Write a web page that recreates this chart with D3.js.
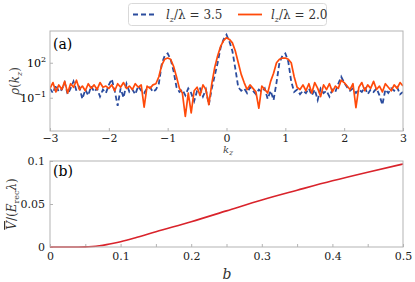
<!DOCTYPE html>
<html>
<head>
<meta charset="utf-8">
<script src="https://cdn.jsdelivr.net/npm/d3@7"></script>
<style>
  body { margin: 0; background: #fff; }
</style>
</head>
<body>
<script>
// panel (a): k_z grid and log10 of rho(k_z)
var kzStep = 0.05
var logRhoA = [ // l_z/lambda = 3.5 (blue dashed)
  -0.2,-0.6,0.1,-0.5,-0.3,0.3,-0.7,-0.2,0.4,-0.4,-0.1,-1.1,-0.3,-0.8,0.0,-0.5,-0.2,-0.9,-0.3,-0.6,
  0.1,0.6,-0.4,-1.7,-0.2,-1.0,0.2,-0.5,-0.3,-0.7,0.0,-0.4,-0.6,-0.2,-0.1,-0.5,-0.3,0.2,1.9,2.6,
  2.8,2.3,1.3,-0.1,-0.5,-0.3,-0.8,-0.2,-0.6,-1.3,-0.4,-0.2,-0.9,-0.3,-1.6,-0.2,0.9,2.0,3.3,4.0,
  4.4,3.8,3.0,1.5,-0.1,-0.4,-0.2,-0.6,-0.1,-0.4,-0.7,-0.3,-0.5,-0.2,-1.1,-0.4,-1.2,0.3,2.0,2.6,
  2.8,2.1,0.4,-0.5,-0.3,-0.7,-0.4,-0.6,-0.2,-0.8,-0.3,-1.2,-0.2,-0.6,-0.4,-0.9,-0.3,-0.5,0.2,0.8,
  0.3,-0.1,-0.4,-0.2,-0.6,-0.3,-0.5,-0.1,-0.7,-0.3,-0.5,-0.2,-0.8,-1.6,-0.3,-0.6,-0.2,-0.4,-0.1,-0.7,-0.5
]
var logRhoB = [ // l_z/lambda = 2.0 (orange)
  -0.2,0.3,-0.5,0.1,-0.3,0.4,-0.6,0.2,-0.1,0.5,-0.3,0.0,-0.4,0.2,-0.2,0.1,-0.3,0.3,-0.1,0.0,
  -0.2,0.1,-0.4,0.2,-0.1,0.3,-0.2,0.0,-0.3,0.2,-0.1,0.1,-1.8,0.0,-0.2,0.1,0.2,0.8,1.8,2.3,
  2.4,2.3,1.7,0.8,-0.2,-0.6,-2.6,-0.6,-2.3,-0.4,-0.1,-0.8,0.1,-0.3,-1.6,0.2,1.6,2.6,3.4,3.9,
  4.15,4.0,3.7,3.0,2.0,1.0,0.3,-0.3,0.1,-0.2,-0.5,-1.9,0.0,-0.3,-0.6,0.4,1.1,2.0,2.3,2.4,
  2.4,2.3,2.0,0.8,-0.1,-0.3,0.1,-0.4,0.2,-0.6,0.3,-0.2,-0.9,0.1,-0.3,0.2,-0.5,0.0,-0.2,0.5,
  0.3,0.0,-0.3,0.2,-1.85,-0.1,0.3,-0.4,0.1,-0.2,0.4,-0.3,0.0,-0.5,0.2,-0.1,-0.4,0.1,-0.2,0.3,0.0
]
var kzTicks = [-3, -2, -1, 0, 1, 2, 3]
var rhoTicks = [1e2, 1e-1]

// panel (b): mean potential vs b
var bVals = [0, 0.02, 0.04, 0.05, 0.06, 0.07, 0.08, 0.09, 0.1, 0.12, 0.15, 0.2, 0.25, 0.3, 0.35, 0.4, 0.45, 0.5]
var vVals = [0, 0, 0, 0.0001, 0.0006, 0.0015, 0.0028, 0.0044, 0.0062, 0.0105, 0.0178, 0.0294, 0.042, 0.0547, 0.066, 0.077, 0.087, 0.0965]
var bTicks = [0, 0.1, 0.2, 0.3, 0.4, 0.5]
var bMinor = [0.05, 0.15, 0.25, 0.35, 0.45]
var vTicks = [0, 0.05, 0.1]

var w = 415, h = 282
var left = 50, right = 403
var boxColor = "#b3b3b3"
var serif = "DejaVu Serif"

var svg = d3.select("body").append("svg")
            .attr("width", w).attr("height", h)
            .style("display", "block")

var seriesA = logRhoA.map((e, i) => ({k: -3 + i * kzStep, v: Math.pow(10, e)}))
var seriesB = logRhoB.map((e, i) => ({k: -3 + i * kzStep, v: Math.pow(10, e)}))

//* top panel scales
var xA = d3.scaleLinear().domain([-3, 3]).range([left, right])
var yA = d3.scaleLog().domain([Math.pow(10, -3.85), Math.pow(10, 4.72)]).range([131, 31])

var gA = svg.append("g")
gA.append("g").attr("transform", "translate(0,131)")
  .call(d3.axisBottom(xA).tickValues(kzTicks).tickSizeInner(-3).tickSizeOuter(0).tickPadding(3)
        .tickFormat(d => d < 0 ? "\u2212" + (-d) : d))
gA.append("g").attr("transform", "translate(" + left + ",0)")
  .call(d3.axisLeft(yA).tickValues(rhoTicks).tickSizeInner(-3).tickSizeOuter(0).tickPadding(4).tickFormat(""))

// log tick labels 10^n
gA.selectAll(".rlab").data(rhoTicks).enter().append("text")
  .attr("x", left - 4).attr("y", d => yA(d) + 4)
  .attr("text-anchor", "end").style("font-size", "11px")
  .each(function(d) {
    var t = d3.select(this)
    var p = Math.round(Math.log10(d))
    t.append("tspan").text("10")
    t.append("tspan").attr("dy", -5).style("font-size", "8px")
     .text(p < 0 ? "\u2212" + (-p) : p)
  })

var clipA = svg.append("clipPath").attr("id", "clipA")
clipA.append("rect").attr("x", left).attr("y", 31).attr("width", right - left).attr("height", 100)

var lineA = d3.line().x(d => xA(d.k)).y(d => yA(d.v))
gA.append("path").datum(seriesA).attr("clip-path", "url(#clipA)")
  .attr("d", lineA).attr("fill", "none").attr("stroke", "#2b4c9e")
  .attr("stroke-width", 1.8).attr("stroke-dasharray", "5,3")
gA.append("path").datum(seriesB).attr("clip-path", "url(#clipA)")
  .attr("d", lineA).attr("fill", "none").attr("stroke", "#ff4a0a")
  .attr("stroke-width", 1.7).attr("stroke-linejoin", "round")

gA.append("rect").attr("x", left).attr("y", 31).attr("width", right - left).attr("height", 100)
  .attr("fill", "none").attr("stroke", boxColor)

gA.append("text").attr("x", 53).attr("y", 49).style("font-size", "14px").text("(a)")

// axis labels
var yLabA = gA.append("text").attr("transform", "translate(19,81) rotate(-90)")
  .attr("text-anchor", "middle").style("font-size", "12px").attr("fill", "#444")
yLabA.append("tspan").style("font-style", "italic").text("\u03c1")
yLabA.append("tspan").text("(")
yLabA.append("tspan").style("font-style", "italic").text("k")
yLabA.append("tspan").attr("dy", 3).style("font-size", "8px").style("font-style", "italic").text("z")
yLabA.append("tspan").attr("dy", -3).text(")")

var xLabA = gA.append("text").attr("x", 228).attr("y", 153)
  .attr("text-anchor", "middle").style("font-size", "10px").attr("fill", "#444")
xLabA.append("tspan").style("font-style", "italic").text("k")
xLabA.append("tspan").attr("dy", 2).style("font-size", "7px").style("font-style", "italic").text("z")

//* bottom panel
var xB = d3.scaleLinear().domain([0, 0.5]).range([left, right])
var yB = d3.scaleLinear().domain([0, 0.1]).range([247, 161])

var gB = svg.append("g")
gB.append("g").attr("transform", "translate(0,247)")
  .call(d3.axisBottom(xB).tickValues(bTicks).tickSizeInner(-3).tickSizeOuter(0).tickPadding(5)
        .tickFormat(d => d === 0 ? "0" : d3.format(".1f")(d)))
gB.append("g").attr("transform", "translate(0,247)")
  .call(d3.axisBottom(xB).tickValues(bMinor).tickSizeInner(-3).tickSizeOuter(0).tickFormat(""))
gB.append("g").attr("transform", "translate(" + left + ",0)")
  .call(d3.axisLeft(yB).tickValues(vTicks).tickSizeInner(-3).tickSizeOuter(0).tickPadding(5)
        .tickFormat(d => d === 0 ? "0" : String(d)))

var lineB = d3.line().x((d, i) => xB(bVals[i])).y(d => yB(d)).curve(d3.curveMonotoneX)
gB.append("path").datum(vVals).attr("d", lineB).attr("fill", "none")
  .attr("stroke", "#d9232b").attr("stroke-width", 1.6)

gB.append("rect").attr("x", left).attr("y", 161).attr("width", right - left).attr("height", 86)
  .attr("fill", "none").attr("stroke", boxColor)

gB.append("text").attr("x", 53).attr("y", 176).style("font-size", "14px").text("(b)")

gB.append("text").attr("x", 227).attr("y", 279)
  .attr("text-anchor", "middle").style("font-size", "14px").style("font-style", "italic")
  .attr("fill", "#333").text("b")

var yLabB = gB.append("text").attr("transform", "translate(16,204) rotate(-90)")
  .attr("text-anchor", "middle").style("font-size", "12px").attr("fill", "#333")
yLabB.append("tspan").style("font-style", "italic").style("text-decoration", "overline").text("V")
yLabB.append("tspan").text("/(")
yLabB.append("tspan").style("font-style", "italic").text("E")
yLabB.append("tspan").attr("dy", 3).style("font-size", "8px").text("rec")
yLabB.append("tspan").attr("dy", -3).style("font-style", "italic").text("\u03bb")
yLabB.append("tspan").text(")")

// style axes like the reference
svg.selectAll(".domain").remove()
svg.selectAll(".tick line").attr("stroke", boxColor)
svg.selectAll(".tick text").attr("font-size", 11).attr("fill", "#222")

//* legend
var leg = svg.append("g")
leg.append("rect").attr("x", 128.5).attr("y", 3.5).attr("width", 198).attr("height", 22).attr("rx", 3)
   .attr("fill", "#fff").attr("stroke", "#d9d9d9")
var legItems = [
  {label: "3.5", color: "#2b4c9e", dash: "5,3", x: 133},
  {label: "2.0", color: "#ff4a0a", dash: null, x: 238}
]
legItems.forEach(function(it) {
  leg.append("line").attr("x1", it.x).attr("x2", it.x + 24).attr("y1", 14.5).attr("y2", 14.5)
     .attr("stroke", it.color).attr("stroke-width", 1.8).attr("stroke-dasharray", it.dash)
  var t = leg.append("text").attr("x", it.x + 33).attr("y", 18.5).style("font-size", "12px").attr("fill", "#333")
  t.append("tspan").style("font-style", "italic").text("l")
  t.append("tspan").attr("dy", 3).style("font-size", "8px").style("font-style", "italic").text("z")
  t.append("tspan").attr("dy", -3).text("/\u03bb = " + it.label)
})

// one serif family for every text, set last so the axis defaults do not win
svg.selectAll("g").attr("font-family", serif)
svg.selectAll("text").style("font-family", serif)
</script>
</body>
</html>
